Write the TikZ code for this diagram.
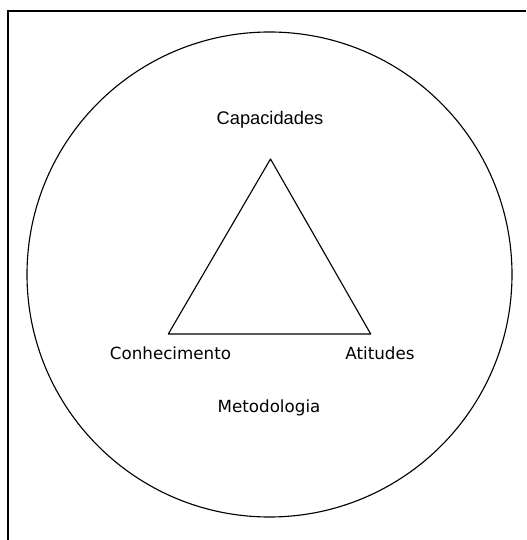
\documentclass[tikz,border=0pt]{standalone}
\usepackage{fontspec}
\setmainfont{DejaVu Sans}
\newfontfamily\capfont{Liberation Sans}
\begin{document}
\begin{tikzpicture}[label text/.style={inner sep=0pt, font=\fontsize{11.9}{14}\selectfont}]
        \useasboundingbox (0, 0) rectangle (13.15, 13.5);
        \draw[line width=1.4pt] (0.2, 0) -- (0.2, 13.225) -- (13.15, 13.225);

        \node[circle, draw, line width=0.8pt, minimum size=12.125cm, inner sep=0pt] (ring) at (6.7375, 6.6375) {};

        \coordinate (top) at (6.7625, 9.525);
        \coordinate (left) at (4.2075, 5.15);
        \coordinate (right) at (9.2675, 5.15);
        \draw[line width=0.8pt, line join=round] (top) -- (left) -- (right) -- cycle;

        \node[inner sep=0pt, font=\capfont\fontsize{13}{15}\selectfont] (cap) at (6.75, 10.5) { Capacidades };
        \node[label text] (con) at (4.2625, 4.675) { Conhecimento };
        \node[label text] (ati) at (9.5, 4.675) { Atitudes };
        \node[label text] (met) at (6.725, 3.3) { Metodologia };

    \end{tikzpicture}
\end{document}
